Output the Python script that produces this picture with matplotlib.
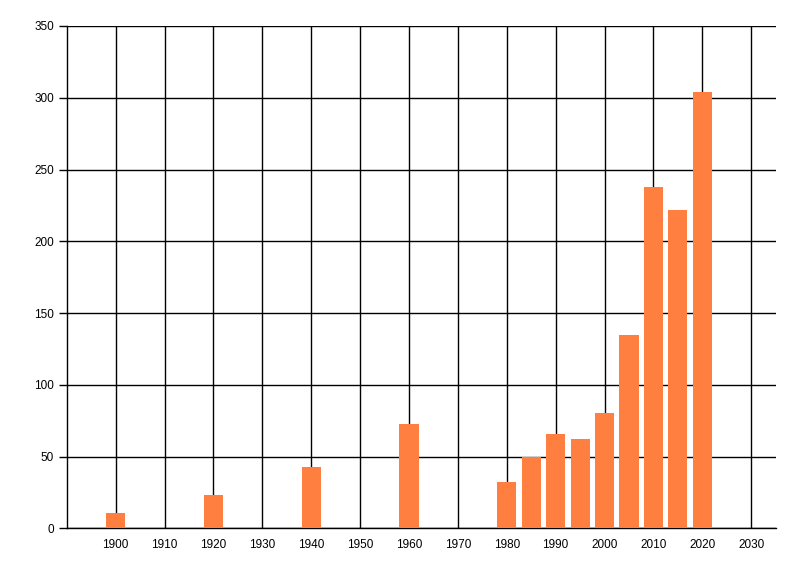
"""Bar chart of counts per five-year period, 1900-2020."""

from matplotlib import pyplot as plt

years = [1900, 1920, 1940, 1960, 1980, 1985, 1990, 1995, 2000, 2005, 2010, 2015, 2020]
counts = [11, 23, 43, 73, 32, 50, 66, 62, 80, 135, 238, 222, 304]
x_ticks = list(range(1900, 2031, 10))
y_ticks = list(range(0, 351, 50))

plt.rcParams["font.family"] = ["Liberation Sans", "DejaVu Sans"]

fig = plt.figure(figsize=(8, 5.76), dpi=100)
ax = fig.add_axes([0.0834, 0.0828, 0.8862, 0.8721])

ax.bar(years, counts, width=3.9, color="#FF7F41", zorder=3)

ax.set_xlim(1890, 2035)
ax.set_ylim(0, 350)
ax.set_xticks(x_ticks)
ax.set_yticks(y_ticks)

ax.grid(True, color="black", linewidth=1.0, zorder=1)
ax.set_axisbelow(True)

for side in ("top", "right"):
    ax.spines[side].set_visible(False)
for side in ("left", "bottom"):
    ax.spines[side].set_linewidth(1.0)
    ax.spines[side].set_color("black")

ax.tick_params(axis="y", length=6, width=1.0, pad=3, labelsize=8.5)
ax.tick_params(axis="x", length=0, pad=8, labelsize=8.5)

fig.savefig("out.png", dpi=100, facecolor="white")
